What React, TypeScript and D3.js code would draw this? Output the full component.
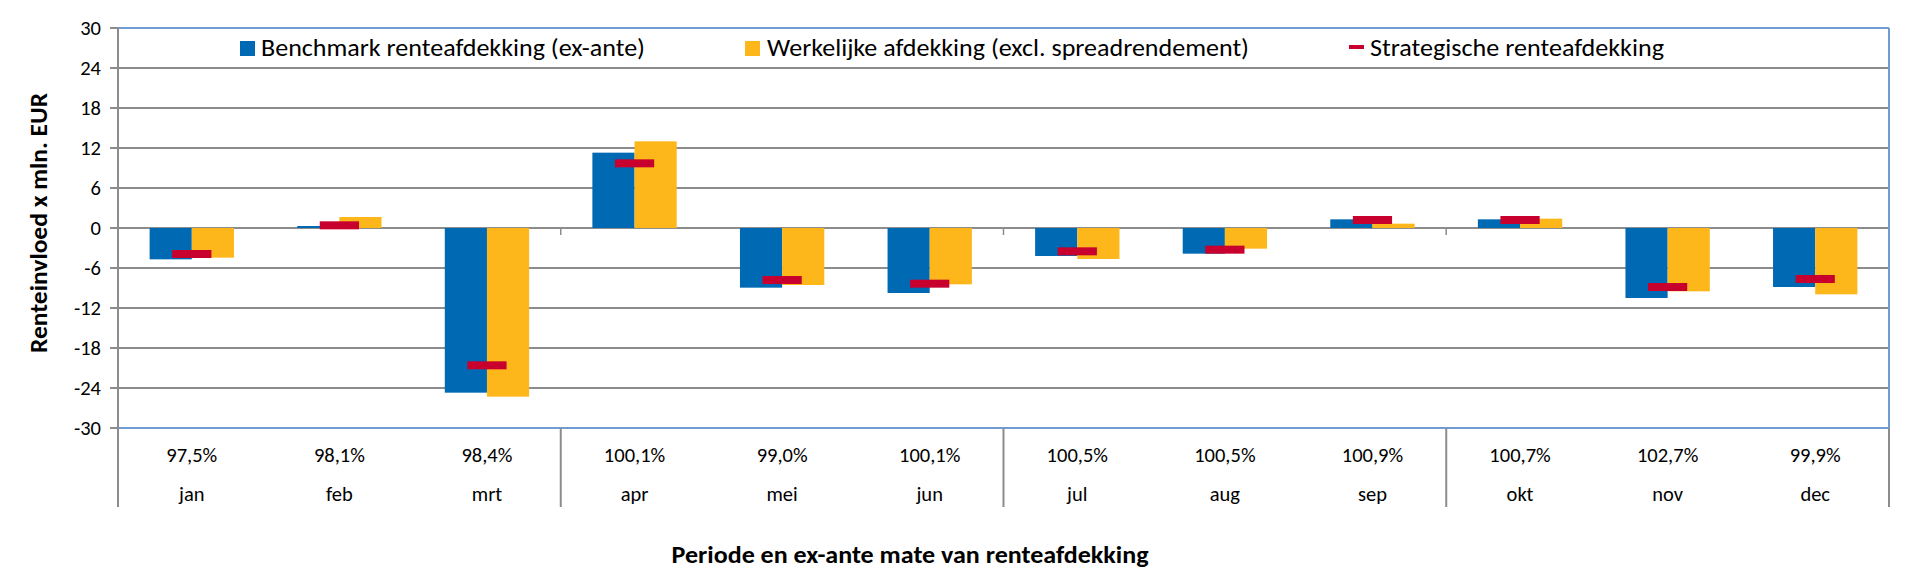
import React from 'react';
import * as d3 from 'd3';

const months = ['jan', 'feb', 'mrt', 'apr', 'mei', 'jun', 'jul', 'aug', 'sep', 'okt', 'nov', 'dec'];
const hedgeRatio = ['97,5%', '98,1%', '98,4%', '100,1%', '99,0%', '100,1%', '100,5%', '100,5%', '100,9%', '100,7%', '102,7%', '99,9%'];
const benchmark = [-4.7, 0.3, -24.7, 11.3, -8.95, -9.75, -4.2, -3.85, 1.3, 1.3, -10.5, -8.85];
const werkelijk = [-4.45, 1.65, -25.3, 13.0, -8.55, -8.45, -4.65, -3.1, 0.65, 1.4, -9.5, -9.95];
const strategisch = [-3.9, 0.4, -20.6, 9.7, -7.8, -8.35, -3.5, -3.25, 1.2, 1.2, -8.85, -7.65];
const yTicks = [30, 24, 18, 12, 6, 0, -6, -12, -18, -24, -30];
const legendLabels = [
  'Benchmark renteafdekking (ex-ante)',
  'Werkelijke afdekking (excl. spreadrendement)',
  'Strategische renteafdekking',
];

const BLUE = '#0069b4';
const YELLOW = '#fdb71a';
const RED = '#c8002e';
const GRID = '#8c8c8c';
const FRAME = '#6f9dd3';
const FONT = 'Carlito, Lato, "Open Sans", sans-serif';

export default function App() {
  const width = 1919;
  const height = 576;
  const margin = { top: 28, right: 30, bottom: 148, left: 118 };
  const x0 = margin.left;
  const x1 = width - margin.right;
  const yTop = margin.top;
  const yBottom = height - margin.bottom;

  const x = d3.scaleBand<string>().domain(months).range([x0, x1]).paddingInner(0).paddingOuter(0);
  const y = d3.scaleLinear().domain([-30, 30]).range([yBottom, yTop]);
  const band = x.bandwidth();
  const barW = band / 3.5;
  const dashW = barW * 0.93;
  const dashH = 8;
  const labelDrop = 79; // vertical dividers below the plot

  // quarter boundaries
  const quarterX = [0, 3, 6, 9, 12].map(i => x0 + i * band);

  const bar = (v: number) => ({ y: Math.min(y(v), y(0)), h: Math.abs(y(v) - y(0)) });

  return (
    <div style={{ position: 'absolute', left: 0, top: 0 }}>
      <svg width={width} height={height} style={{ display: 'block', background: '#fff' }} fontFamily={FONT}>
        {/* grid */}
        {yTicks.filter(t => t !== 30 && t !== -30).map(t => (
          <line key={t} x1={x0 - 8} x2={x1} y1={y(t)} y2={y(t)} stroke={GRID} strokeWidth={2} />
        ))}
        {[30, -30].map(t => (
          <line key={'f' + t} x1={x0 - 8} x2={x0} y1={y(t)} y2={y(t)} stroke={GRID} strokeWidth={2} />
        ))}
        <line x1={x0} x2={x1} y1={y(30)} y2={y(30)} stroke={FRAME} strokeWidth={2} />
        <line x1={x0} x2={x1} y1={y(-30)} y2={y(-30)} stroke={FRAME} strokeWidth={2} />
        <line x1={x1} x2={x1} y1={y(30)} y2={y(-30)} stroke={FRAME} strokeWidth={2} />

        {/* y tick labels */}
        {yTicks.map(t => (
          <text key={'t' + t} x={x0 - 17} y={y(t)} dy="0.36em" textAnchor="end" fontSize={20.5} fill="#000">
            {t}
          </text>
        ))}

        {/* bars */}
        {months.map((m, i) => {
          const left = (x(m) ?? 0) + band / 2 - barW;
          const b = bar(benchmark[i]);
          const w = bar(werkelijk[i]);
          return (
            <g key={m}>
              <rect x={left} y={b.y} width={barW} height={b.h} fill={BLUE} />
              <rect x={left + barW} y={w.y} width={barW} height={w.h} fill={YELLOW} />
            </g>
          );
        })}

        {/* strategic markers */}
        {months.map((m, i) => (
          <rect
            key={'s' + m}
            x={(x(m) ?? 0) + band / 2 - dashW / 2}
            y={y(strategisch[i]) - dashH / 2}
            width={dashW}
            height={dashH}
            fill={RED}
          />
        ))}

        {/* zero-line ticks at quarter boundaries */}
        {quarterX.slice(1, 4).map(qx => (
          <line key={'zt' + qx} x1={qx} x2={qx} y1={y(0)} y2={y(0) + 7} stroke={GRID} strokeWidth={1.5} />
        ))}

        {/* y axis line */}
        <line x1={x0} x2={x0} y1={y(30) - 1} y2={yBottom + labelDrop} stroke={GRID} strokeWidth={2} />
        {/* quarter dividers in the label area */}
        {quarterX.slice(1).map(qx => (
          <line key={'q' + qx} x1={qx} x2={qx} y1={yBottom} y2={yBottom + labelDrop} stroke={GRID} strokeWidth={2} />
        ))}

        {/* category labels */}
        {months.map((m, i) => (
          <g key={'c' + m}>
            <text x={(x(m) ?? 0) + band / 2} y={yBottom + 34} textAnchor="middle" fontSize={20.5} fill="#000">
              {hedgeRatio[i]}
            </text>
            <text x={(x(m) ?? 0) + band / 2} y={yBottom + 73} textAnchor="middle" fontSize={20.5} fill="#000">
              {m}
            </text>
          </g>
        ))}

        {/* axis titles */}
        <text
          transform={`translate(${47},${223}) rotate(-90)`}
          textAnchor="middle"
          fontSize={24}
          fontWeight="bold"
          fill="#000"
          textLength={260}
          lengthAdjust="spacingAndGlyphs"
        >
          Renteinvloed x mln. EUR
        </text>
        <text
          x={910}
          y={563}
          textAnchor="middle"
          fontSize={24}
          fontWeight="bold"
          fill="#000"
          textLength={477}
          lengthAdjust="spacingAndGlyphs"
        >
          Periode en ex-ante mate van renteafdekking
        </text>

        {/* legend */}
        <g>
          <rect x={240} y={41} width={15} height={15} fill={BLUE} />
          <text x={261} y={56} fontSize={24} fill="#000" textLength={384} lengthAdjust="spacingAndGlyphs">
            {legendLabels[0]}
          </text>
          <rect x={745} y={41} width={15} height={15} fill={YELLOW} />
          <text x={767} y={56} fontSize={24} fill="#000" textLength={482} lengthAdjust="spacingAndGlyphs">
            {legendLabels[1]}
          </text>
          <rect x={1349} y={45} width={15} height={4} fill={RED} />
          <text x={1370} y={56} fontSize={24} fill="#000" textLength={294} lengthAdjust="spacingAndGlyphs">
            {legendLabels[2]}
          </text>
        </g>
      </svg>
    </div>
  );
}
